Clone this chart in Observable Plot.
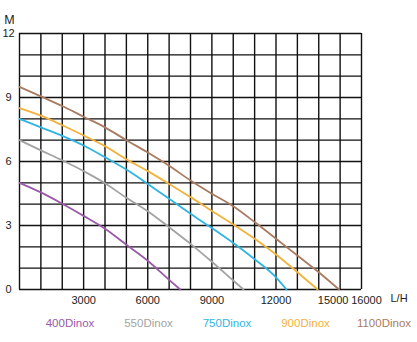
<!DOCTYPE html>
<html>
<head>
<meta charset="utf-8">
<script src="https://cdn.jsdelivr.net/npm/d3@7"></script>
<script src="https://cdn.jsdelivr.net/npm/@observablehq/plot@0.6"></script>
<style>
  html, body { margin: 0; padding: 0; background: #fff; }
  #wrap { width: 417px; font-family: "Liberation Sans", Arial, sans-serif; }
  #legend { position: relative; height: 32px; font-size: 11.5px; }
  #legend span { position: absolute; top: 7px; width: 80px; margin-left: -40px; text-align: center; }
</style>
</head>
<body>
<div id="wrap"></div>
<script>
const models = ["400Dinox", "550Dinox", "750Dinox", "900Dinox", "1100Dinox"];
const colors = ["#9a5aa8", "#a3a3a3", "#2fb5e3", "#f3b23c", "#aa7b60"];
const flow400  = [0, 1000, 2000, 3000, 4000, 5000, 6000, 7000, 7520];
const head400  = [5.0, 4.55, 4.02, 3.45, 2.85, 2.1, 1.35, 0.45, 0];
const flow550  = [0, 1000, 2000, 3000, 4000, 5000, 6000, 7000, 8000, 9000, 10000, 10480];
const head550  = [7.0, 6.52, 6.05, 5.55, 4.98, 4.3, 3.67, 2.92, 2.14, 1.3, 0.42, 0];
const flow750  = [0, 1000, 2000, 3000, 4000, 5000, 6000, 7000, 8000, 9000, 10000, 11000, 12000, 12490];
const head750  = [8.0, 7.6, 7.2, 6.75, 6.2, 5.62, 4.95, 4.25, 3.55, 2.88, 2.18, 1.42, 0.57, 0];
const flow900  = [0, 1000, 2000, 3000, 4000, 5000, 6000, 7000, 8000, 9000, 10000, 11000, 12000, 13000, 13950];
const head900  = [8.5, 8.15, 7.7, 7.22, 6.72, 6.1, 5.55, 4.95, 4.33, 3.68, 3.05, 2.38, 1.64, 0.81, 0];
const flow1100 = [0, 1000, 2000, 3000, 4000, 5000, 6000, 7000, 8000, 9000, 10000, 11000, 12000, 13000, 14000, 14950];
const head1100 = [9.5, 9.05, 8.6, 8.1, 7.6, 7.0, 6.42, 5.8, 5.11, 4.49, 3.9, 3.16, 2.38, 1.59, 0.81, 0];
const xTickLabels = [3000, 6000, 9000, 12000];
const xEndLabels = [15000, 16000];
const yTickLabels = [0, 3, 6, 9, 12];
const xUnit = "L/H";
const yUnit = "M";

const flows = [flow400, flow550, flow750, flow900, flow1100];
const heads = [head400, head550, head750, head900, head1100];
const rows = [];
models.forEach((m, i) => flows[i].forEach((f, j) => rows.push({model: m, flow: f, head: heads[i][j]})));

const fmt = d => String(d);

const plot = Plot.plot({
  width: 417,
  height: 310,
  marginLeft: 19,
  marginRight: 56,
  marginTop: 33,
  marginBottom: 21,
  style: {fontFamily: "Liberation Sans, Arial, sans-serif", fontSize: "11px", color: "#222", background: "#fff"},
  x: {domain: [0, 16000]},
  y: {domain: [0, 12]},
  color: {domain: models, range: colors},
  marks: [
    Plot.gridX(d3.range(0, 16001, 1000), {stroke: "#111", strokeOpacity: 1, strokeWidth: 1.4}),
    Plot.gridY(d3.range(0, 13, 1), {stroke: "#111", strokeOpacity: 1, strokeWidth: 1.4}),
    Plot.line(rows, {x: "flow", y: "head", z: "model", stroke: "model", strokeWidth: 1.8, curve: "monotone-x"}),
    Plot.axisY(yTickLabels, {tickSize: 0, tickPadding: 11, textAnchor: "middle", label: null, fontSize: 11, tickFormat: fmt}),
    Plot.axisX(xTickLabels, {tickSize: 0, tickPadding: 7, label: null, fontSize: 11, tickFormat: fmt}),
    Plot.axisX([xEndLabels[0]], {tickSize: 0, tickPadding: 7, label: null, fontSize: 11, dx: -7, tickFormat: fmt}),
    Plot.axisX([xEndLabels[1]], {tickSize: 0, tickPadding: 7, label: null, fontSize: 11, dx: 5, tickFormat: fmt}),
    Plot.text([xUnit], {frameAnchor: "bottom-right", dx: 29, dy: 12, textAnchor: "start", fontSize: 11, fill: "#222"}),
    Plot.text([yUnit], {frameAnchor: "top-left", dx: -10, dy: -18, textAnchor: "middle", fontSize: 12.5, fill: "#222"})
  ]
});

const wrap = document.getElementById("wrap");
wrap.appendChild(plot);
const legend = document.createElement("div");
legend.id = "legend";
models.forEach((m, i) => {
  const s = document.createElement("span");
  s.textContent = m;
  s.style.color = colors[i];
  s.style.left = (70 + 78.5 * i) + "px";
  legend.appendChild(s);
});
wrap.appendChild(legend);
</script>
</body>
</html>
